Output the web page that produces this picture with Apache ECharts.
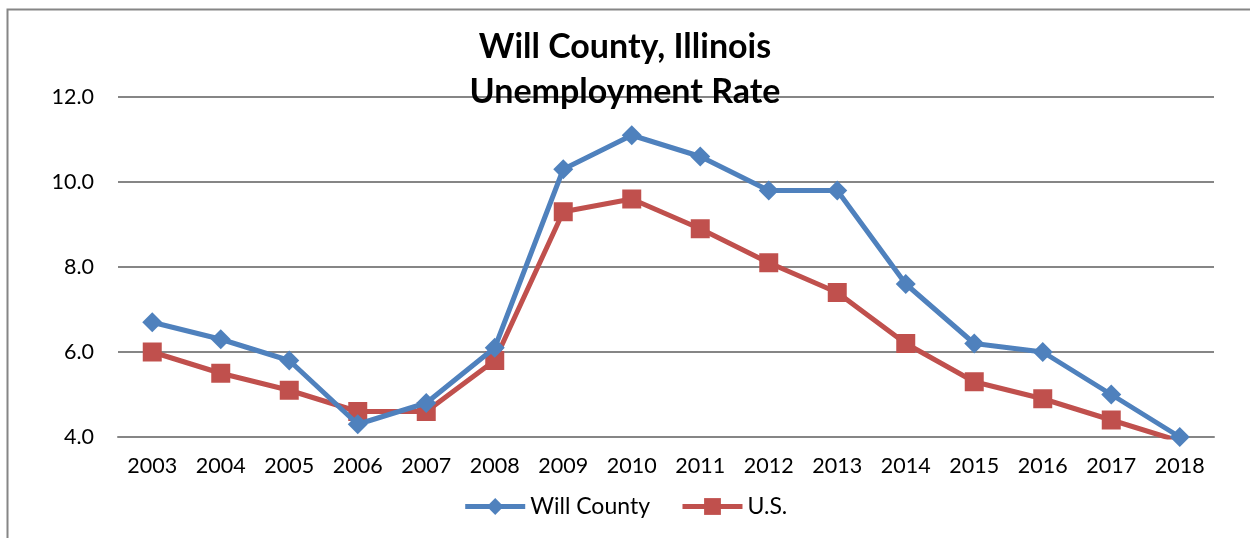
<!DOCTYPE html>
<html><head><meta charset="utf-8">
<script src="https://cdn.jsdelivr.net/npm/echarts@6/dist/echarts.min.js"></script>
<style>html,body{margin:0;padding:0;background:#fff}#c{width:1250px;height:538px}</style>
</head><body><div id="c"></div>
<script>
const years = ['2003','2004','2005','2006','2007','2008','2009','2010','2011','2012','2013','2014','2015','2016','2017','2018'];
const willCounty = [6.7,6.3,5.8,4.3,4.8,6.1,10.3,11.1,10.6,9.8,9.8,7.6,6.2,6.0,5.0,4.0];
const us = [6.0,5.5,5.1,4.6,4.6,5.8,9.3,9.6,8.9,8.1,7.4,6.2,5.3,4.9,4.4,3.9];
const yTicks = [4,6,8,10,12];

const chart = echarts.init(document.getElementById('c'));
const font = 'Lato, "Open Sans", sans-serif';
chart.setOption({
  animation:false,
  textStyle:{fontFamily:font},
  graphic:[{type:'rect',shape:{x:7.5,y:9.5,width:1260,height:560},style:{fill:'none',stroke:'#868686',lineWidth:2},silent:true}],
  title:{text:'Will County, Illinois\nUnemployment Rate',left:'center',top:20,
    textStyle:{fontFamily:font,fontSize:34,fontWeight:'bold',color:'#000',lineHeight:45}},
  legend:{bottom:15,left:'center',itemWidth:60,itemHeight:21,itemGap:30,
    lineStyle:{width:5},
    textStyle:{fontFamily:font,fontSize:23,color:'#000'},
    data:['Will County','U.S.']},
  grid:{left:118,right:36,top:97,bottom:101},
  xAxis:{type:'category',data:years,boundaryGap:true,
    axisLine:{lineStyle:{color:'#868686',width:2}},axisTick:{show:false},
    axisLabel:{fontFamily:font,fontSize:21.5,color:'#000',margin:18}},
  yAxis:{type:'value',min:4,max:12,interval:2,
    axisLine:{show:false},axisTick:{show:false},
    splitLine:{lineStyle:{color:'#868686',width:2}},
    axisLabel:{fontFamily:font,fontSize:21.5,color:'#000',margin:24,formatter:v=>v.toFixed(1)}},
  series:[
    {name:'Will County',type:'line',data:willCounty,symbol:'diamond',symbolSize:20,
      itemStyle:{color:'#4F81BD'},lineStyle:{color:'#4F81BD',width:5},z:3},
    {name:'U.S.',type:'line',data:us,symbol:'rect',symbolSize:19,
      itemStyle:{color:'#C0504D'},lineStyle:{color:'#C0504D',width:5},z:2}
  ]
});
</script></body></html>
